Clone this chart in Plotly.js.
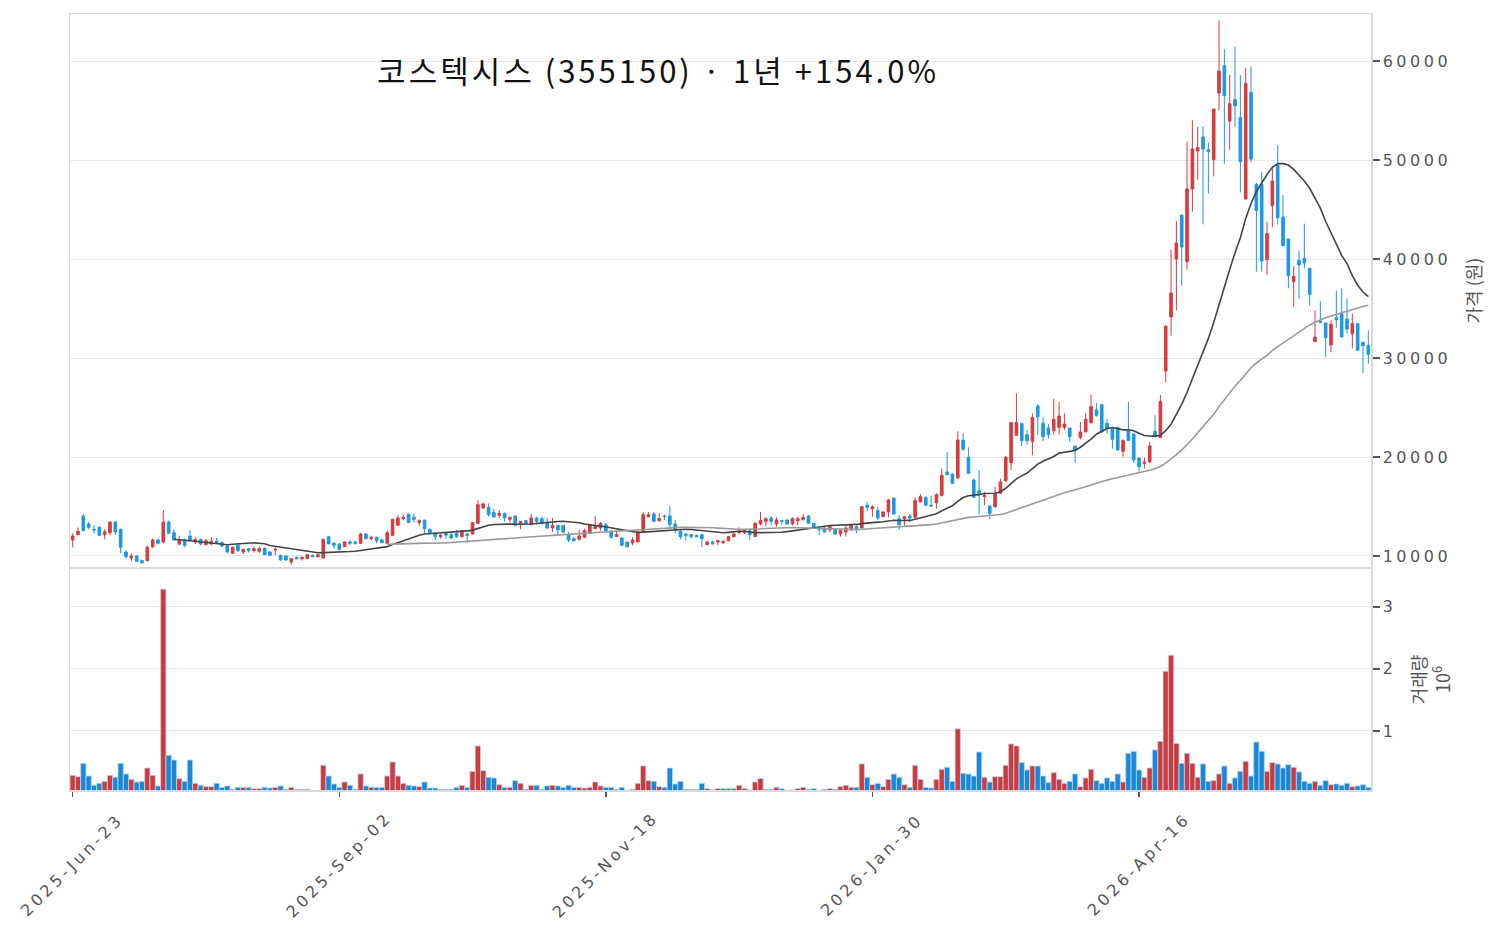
<!DOCTYPE html>
<html><head><meta charset="utf-8">
<script src="https://cdn.plot.ly/plotly-3.0.1.min.js"></script>
<style>
html,body{margin:0;padding:0;background:#fff}
#chart{width:1503px;height:938px}
g.ytick text, g.y2tick text{letter-spacing:3.5px}
g.annotation text{letter-spacing:3.5px}
.gtitle{letter-spacing:3px}
</style>
</head><body><div id="chart"></div>
<script>
// trading calendar (KRX), weekday closures
const startDate = '2025-06-23';
const endDate = '2026-06-22';
const holidays = ['2025-08-15','2025-10-03','2025-10-06','2025-10-07','2025-10-08','2025-10-09',
  '2025-12-25','2025-12-31','2026-01-01','2026-02-16','2026-02-17','2026-02-18','2026-03-02',
  '2026-05-01','2026-05-05','2026-05-25','2026-06-03'];
const tickIdx = [0, 50, 100, 150, 200];
const tickLabels = ['2025-Jun-23','2025-Sep-02','2025-Nov-18','2026-Jan-30','2026-Apr-16'];

const open = [11617,12155,14041,13233,12694,12896,12155,12357,13435,12694,
10404,9798,10000,9529,9529,10943,11617,11415,13435,12357,
11213,11617,12020,11415,11684,11145,11213,11482,11347,11011,
10270,11078,10404,10741,10539,10472,10808,10404,10606,10068,
10000,9394,9866,9731,9731,10068,9933,9798,11953,11280,
11213,10943,11415,11415,11280,12223,11751,11886,11617,11280,
12088,13098,13771,14243,13906,13367,13637,12694,12290,11953,
12290,12155,12290,11953,12223,12223,13300,14849,14916,14377,
14108,14310,13704,14041,13165,13569,13165,13839,13771,13435,
12829,13098,13098,12088,11751,11684,11886,12290,12761,12829,
13165,12492,11953,11818,11415,11347,11415,12425,13973,14243,
13569,14041,14041,13233,12492,12223,12155,12088,12155,11145,
11415,11415,11347,11550,11953,12357,12357,12559,11953,13233,
13502,13839,13233,13569,13637,13233,13569,13704,14041,13300,
12829,12829,12627,12627,12223,12425,12761,12963,12829,15118,
14781,14580,13973,14445,15859,13771,13771,14041,13906,15455,
15926,15118,15388,16128,18485,18283,17879,21717,19967,17677,
16599,15994,15051,14983,16330,17610,19428,22189,23401,22256,
21583,25152,23401,22930,22660,22997,22997,22930,21111,21987,
22526,23468,24747,25286,23401,22862,22997,20572,22660,22324,
19899,19360,19495,22593,21953,28687,34141,39999,44444,39730,
47071,50909,52323,51044,50034,56767,59528,53939,56094,54276,
46060,56835,47542,47542,39932,45387,49495,44242,42020,37710,
39865,40067,39057,31650,33737,33535,31313,34074,34478,33939,
32458,33468,31582,31246];

const high = [12290,12896,14243,13435,13098,13031,12694,13435,13435,12761,
10606,10270,10068,9664,11078,11751,11751,14647,13569,12694,
12088,11751,12627,11886,11751,11751,11886,11818,11482,11078,
10943,11280,10741,10808,10943,10943,10808,10472,10876,10135,
10068,9731,9933,9933,10202,10135,10202,11751,12020,11415,
11280,11482,11617,11549,12357,12290,12088,11953,11684,12559,
13771,14108,14175,14243,14310,13704,13637,12761,12290,12223,
12425,12357,12627,12627,12357,13435,15657,15387,15320,14781,
14647,14377,13973,14108,13502,13637,14243,13973,13973,13839,
13839,13098,13098,12425,11886,12627,12761,13233,14041,13435,
13367,12627,12425,11886,11415,11886,12627,14445,14445,14445,
14310,14175,15051,13637,12627,12290,12223,12155,12155,11549,
11482,11617,11549,12020,12290,12896,12694,12694,13435,14445,
13906,14041,13906,13569,13704,13906,13973,14243,14108,13300,
12963,12963,13098,12694,12694,13098,13233,13098,14984,15455,
15118,14984,14512,15792,15926,14108,14041,14243,15926,16263,
15994,16061,16330,18822,20505,18350,22593,22391,20977,17812,
18687,16465,15051,17004,17812,20101,23536,26431,23401,22728,
24411,25354,24007,23333,25893,25556,24411,22930,21111,23535,
24411,26297,25489,25286,23872,22997,22997,21785,25556,22324,
19899,19966,21515,24209,26263,33333,40942,43837,44444,51852,
54006,53333,53400,51784,55151,64107,61212,58585,61481,58585,
59326,59461,47677,48821,43771,49360,51515,46464,42020,39259,
40875,43569,39057,34815,35757,33535,33804,36835,37037,36027,
34478,33468,31582,32794];

const low = [10876,12088,12492,12694,12290,12020,11684,12088,12155,10270,
9731,9462,9394,9192,9462,10808,11145,11280,12223,11549,
11078,10876,11482,11213,11078,11078,11078,11213,10876,10270,
10202,10404,10202,10337,10337,10270,10068,10000,10068,9529,
9529,9125,9664,9529,9664,9866,9866,9798,11213,10741,
10539,10876,11078,11145,11213,11684,11549,11280,11280,11280,
12020,13031,13637,13367,13367,13031,12290,12290,11617,11751,
11751,11684,11818,11886,11280,12155,13233,14781,13973,13839,
13839,13502,13367,13031,12694,13165,13098,13165,13165,12694,
12425,12155,12290,11415,11415,11549,11818,12223,12761,12559,
12290,11751,11953,11011,10876,11078,11415,12290,13906,13435,
13435,13637,12694,12290,11684,11549,11751,11886,10876,11145,
11145,11078,11213,11482,11886,12223,12223,11617,11953,13098,
13031,13098,12963,13098,13165,13098,13098,13569,13233,12761,
12088,12357,12425,12155,11953,11953,12492,12290,12829,14512,
13973,13637,13906,13906,14176,12627,13031,13435,13771,15455,
15051,14984,14781,15994,18148,17273,17812,20640,18283,15859,
14175,15118,13704,14849,16330,17475,18687,22189,21111,21246,
20168,22189,21583,21852,22256,22256,22728,21515,19428,21785,
22526,23401,24074,22526,22391,20842,20640,20034,21650,19428,
18552,18822,19428,21987,21953,27542,32256,34815,37306,38923,
44781,48013,43502,46599,48350,55016,49629,51044,53333,46734,
46060,49764,38720,38720,38384,43232,43502,41346,37037,35151,
35959,39057,35286,31650,33603,30101,30572,33064,32121,32458,
30976,30774,28485,29427];

const close = [12020,12492,12559,12896,12627,12088,12425,13435,12425,10876,
9933,10000,9462,9327,10876,11617,11280,13435,12290,11617,
11617,11078,11617,11684,11213,11549,11482,11347,11011,10404,
10876,10539,10674,10539,10741,10741,10135,10068,10674,9596,
9596,9731,9731,9866,10135,9933,10135,11684,11213,11078,
10674,11415,11280,11280,12223,11751,11886,11549,11347,12357,
13704,13839,13906,13367,13704,13569,12761,12357,11953,12088,
12088,11818,11953,12559,12088,13367,15185,15253,14175,13973,
14310,13839,13906,13098,13502,13233,13839,13502,13300,12829,
13098,12627,12425,11617,11549,12020,12559,13165,12963,13300,
12492,11886,12155,11078,10943,11617,12425,14175,14175,13502,
13771,13973,13165,12627,11953,12088,11953,11953,11751,11415,
11213,11549,11482,11953,12223,12492,12559,12155,13300,13569,
13771,13502,13637,13502,13233,13771,13771,13906,13300,12896,
12694,12425,13031,12223,12559,12829,13098,12761,14984,14916,
14984,13839,14445,15657,14243,13166,13973,13839,15590,15994,
15118,15051,16196,18148,18216,17340,21717,20775,18350,15926,
16330,16128,14310,16330,17475,19967,23468,23468,21650,21650,
24007,24074,22054,22256,23805,24141,23333,22054,20707,22526,
23805,25084,24209,22526,22862,21785,20707,21650,21650,19697,
19024,19495,21111,22054,25589,33199,36566,41616,41212,47071,
51111,51246,51111,50842,55151,58990,56498,55690,55488,49831,
57710,50101,44916,39798,42558,47879,44175,41346,38316,38249,
39394,39596,36431,32121,33603,32054,33401,33872,32121,32929,
33468,30774,31246,30370];

const volume = [285000,263000,478000,274000,124000,156000,188000,285000,253000,478000,
306000,220000,177000,188000,403000,285000,113000,3285000,608000,532000,
231000,188000,532000,156000,124000,102000,102000,156000,91000,113000,
60000,91000,91000,91000,70000,70000,91000,80000,91000,113000,
60000,91000,60000,60000,60000,40000,40000,446000,274000,145000,
91000,177000,124000,60000,306000,113000,91000,91000,91000,274000,
500000,274000,156000,124000,113000,102000,177000,80000,80000,60000,
60000,60000,91000,124000,91000,349000,758000,360000,253000,242000,
134000,91000,91000,199000,156000,60000,124000,124000,60000,113000,
124000,113000,91000,124000,91000,91000,80000,91000,177000,113000,
91000,91000,60000,91000,40000,60000,156000,435000,199000,188000,
102000,91000,403000,145000,188000,60000,60000,60000,156000,70000,
50000,70000,70000,70000,70000,124000,70000,50000,177000,231000,
60000,60000,91000,70000,40000,50000,70000,91000,60000,70000,
40000,60000,70000,60000,102000,124000,91000,91000,468000,253000,
134000,156000,102000,220000,306000,253000,134000,91000,446000,220000,
91000,80000,220000,382000,414000,188000,1035000,317000,306000,274000,
661000,253000,177000,263000,263000,446000,790000,758000,489000,371000,
435000,435000,274000,167000,328000,220000,156000,188000,306000,102000,
242000,382000,199000,156000,242000,188000,306000,177000,640000,672000,
371000,253000,403000,693000,833000,1962000,2220000,800000,478000,640000,
478000,253000,468000,188000,199000,306000,435000,156000,242000,349000,
511000,274000,822000,672000,349000,489000,468000,403000,457000,414000,
339000,188000,156000,188000,124000,199000,134000,145000,124000,156000,
102000,113000,134000,91000];

const titleText = '코스텍시스 (355150) · 1년 +154.0%';
const priceTitle = '가격 (원)';
const volTitle = '거래량<br>10<sup>6</sup>';

// build trading dates
function fmt(d){return d.toISOString().slice(0,10);}
const dates = [];
for (let d = new Date(startDate+'T00:00:00Z'); fmt(d) <= endDate; d.setUTCDate(d.getUTCDate()+1)) {
  const wd = d.getUTCDay();
  const s = fmt(d);
  if (wd === 0 || wd === 6 || holidays.includes(s)) continue;
  dates.push(s);
}

function sma(arr, n){
  return arr.map((v,i)=>{
    if (i < n-1) return null;
    let s = 0; for (let k=i-n+1;k<=i;k++) s += arr[k];
    return s/n;
  });
}
const ma20 = sma(close, 20);
const ma60 = sma(close, 60);

const UP = '#d63b3e', DOWN = '#1a98e6';
const UPV = '#cf3a3c', DOWNV = '#1a88d9';
const volColors = close.map((c,i)=> c >= open[i] ? UPV : DOWNV);

const tickFont = {family:'DejaVu Sans, sans-serif', size:16, color:'#555'};
const gridC = '#e6e6e6', lineC = '#d9d9d9';

const traces = [
  {type:'candlestick', x:dates, open:open, high:high, low:low, close:close,
   xaxis:'x2', yaxis:'y', whiskerwidth:0,
   increasing:{line:{color:UP, width:1}, fillcolor:UP},
   decreasing:{line:{color:DOWN, width:1}, fillcolor:DOWN},
   hoverinfo:'x+y', showlegend:false},
  {type:'scatter', mode:'lines', x:dates, y:ma20, xaxis:'x2', yaxis:'y',
   line:{color:'#444444', width:1.6}, showlegend:false, hoverinfo:'skip'},
  {type:'scatter', mode:'lines', x:dates, y:ma60, xaxis:'x2', yaxis:'y',
   line:{color:'#9a9a9a', width:1.6}, showlegend:false, hoverinfo:'skip'},
  {type:'bar', x:dates, y:volume, xaxis:'x', yaxis:'y2',
   marker:{color:volColors, line:{color:'#b9d7f0', width:0.8}},
   showlegend:false, hoverinfo:'x+y'}
];

const tv = tickIdx.map(i=>dates[i]);
const tickAnnotations = tickIdx.map((idx,k)=>({
  x: dates[idx], xref:'x', y:-0.0966, yref:'paper',
  text: tickLabels[k], textangle:-45, showarrow:false,
  xanchor:'center', yanchor:'middle',
  font:{family:'DejaVu Sans, sans-serif', size:16, color:'#555'}
}));

const layout = {
  width:1503, height:938,
  margin:{l:70, r:132, t:14, b:148},
  paper_bgcolor:'#fff', plot_bgcolor:'#fff',
  bargap:0,
  font:{family:'Noto Sans CJK KR, DejaVu Sans, sans-serif', color:'#555'},
  title:{text:titleText, x:0.452, xref:'paper', xanchor:'center',
         y:0.925, yref:'paper', yanchor:'middle',
         font:{family:'Noto Sans CJK KR, sans-serif', size:31, color:'#111'}},
  annotations: tickAnnotations,
  xaxis:{type:'category', anchor:'y2', domain:[0,1], range:[-0.5, dates.length-0.5],
         tickmode:'array', tickvals:tv, showticklabels:false,
         ticks:'outside', ticklen:5, tickcolor:'#555', tickwidth:1.5,
         showgrid:false, showline:true, linecolor:lineC, linewidth:1.5, mirror:true,
         zeroline:false, rangeslider:{visible:false}},
  xaxis2:{type:'category', matches:'x', anchor:'y', domain:[0,1],
          showticklabels:false, ticks:'', showgrid:false,
          showline:true, linecolor:lineC, linewidth:1.5, mirror:true,
          zeroline:false, rangeslider:{visible:false}},
  yaxis:{domain:[0.2874,1], anchor:'x2', side:'right', range:[8890, 64750],
         tickmode:'array', tickvals:[10000,20000,30000,40000,50000,60000],
         ticktext:['10000','20000','30000','40000','50000','60000'],
         ticks:'outside', ticklen:7, tickcolor:'#555', tickwidth:1.5,
         showgrid:true, gridcolor:gridC, gridwidth:1,
         showline:true, linecolor:lineC, linewidth:1.5, mirror:true, zeroline:false,
         tickfont:tickFont,
         title:{text:priceTitle, font:{family:'Noto Sans CJK KR, sans-serif', size:18, color:'#555'}, standoff:18}},
  yaxis2:{domain:[0,0.2848], anchor:'x', side:'right', range:[48000, 3610000],
          tickmode:'array', tickvals:[1000000,2000000,3000000], ticktext:['1','2','3'],
          ticks:'outside', ticklen:7, tickcolor:'#555', tickwidth:1.5,
          showgrid:true, gridcolor:gridC, gridwidth:1,
          showline:true, linecolor:lineC, linewidth:1.5, mirror:true, zeroline:false,
          tickfont:tickFont,
          title:{text:volTitle, font:{family:'Noto Sans CJK KR, sans-serif', size:18, color:'#555'}, standoff:18}}
};

Plotly.newPlot('chart', traces, layout, {displayModeBar:false, staticPlot:true});
</script>
</body></html>
